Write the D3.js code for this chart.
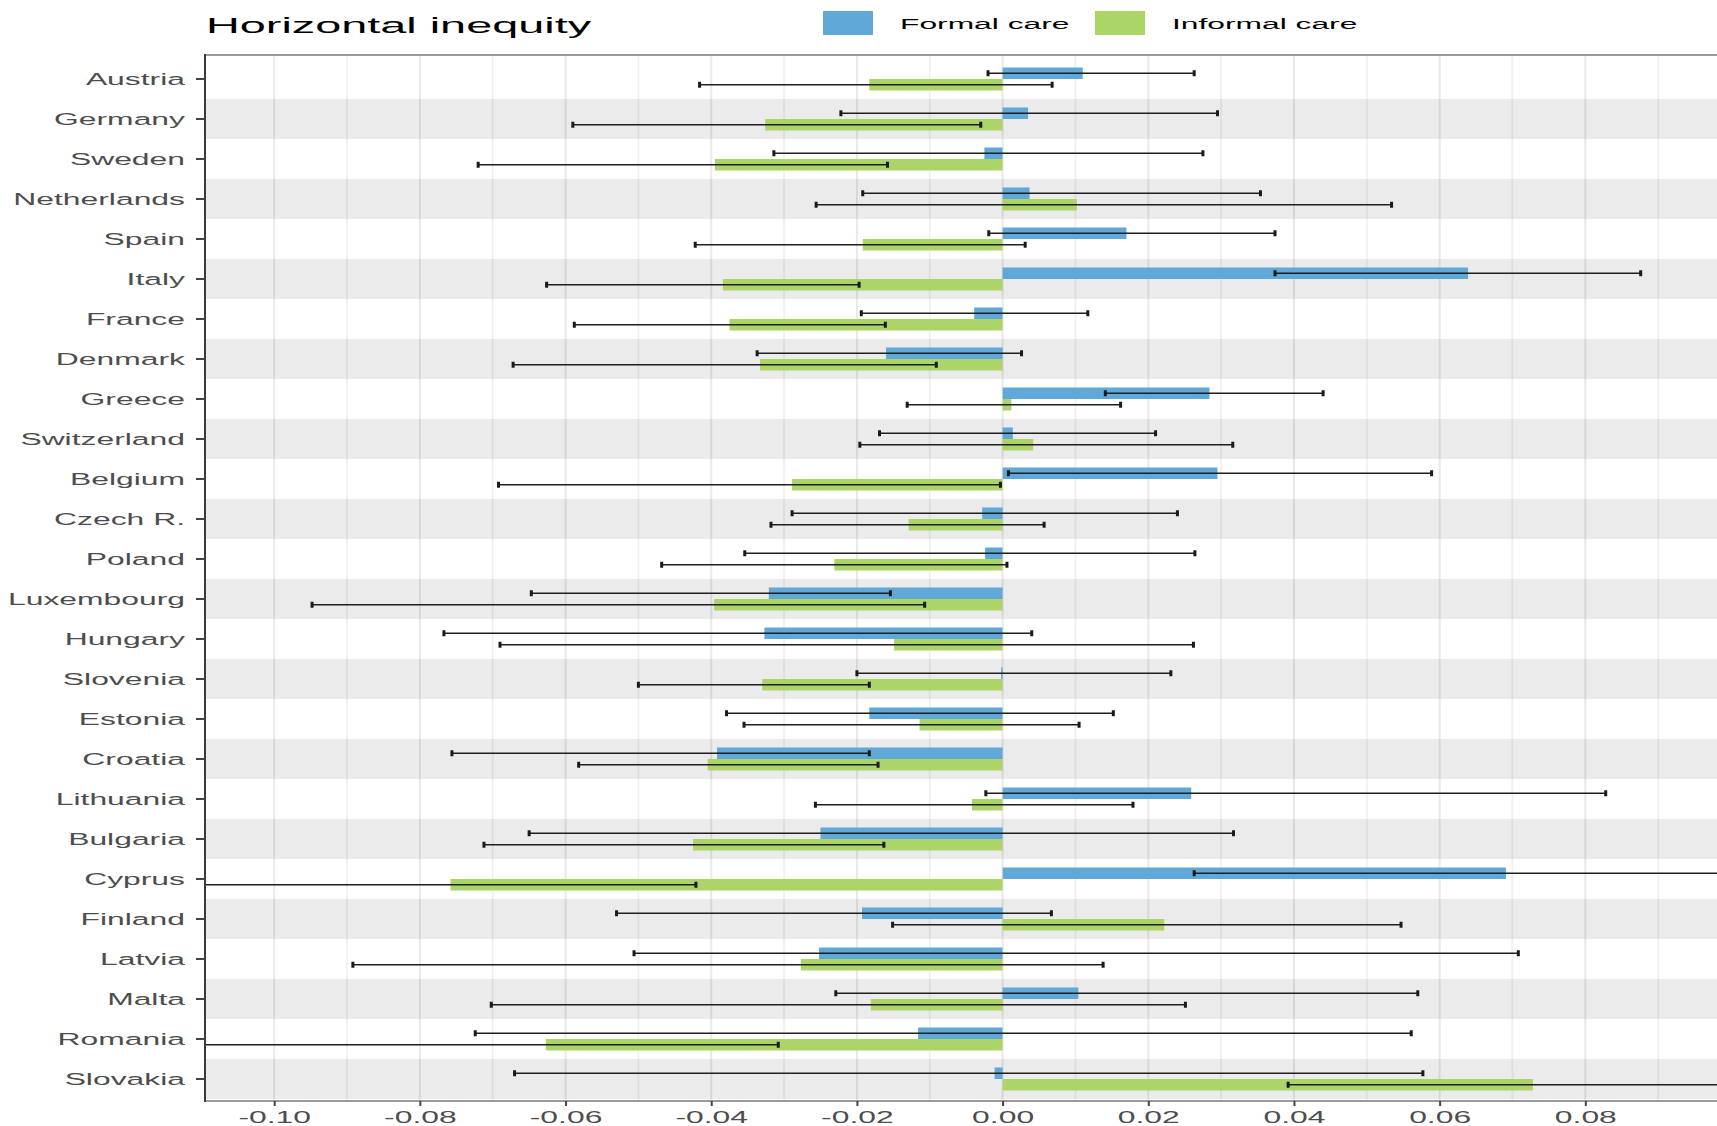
<!DOCTYPE html>
<html>
<head>
<meta charset="utf-8">
<script src="https://cdn.jsdelivr.net/npm/d3@7"></script>
<style>
  html, body { margin: 0; padding: 0; background: #ffffff; }
  svg { display: block; font-family: "Liberation Sans", Arial, Helvetica, sans-serif; }
</style>
</head>
<body>
<svg id="chart" width="1717" height="1126"></svg>
<script>
// Countries, top to bottom
const countries = [
  "Austria", "Germany", "Sweden", "Netherlands", "Spain", "Italy", "France",
  "Denmark", "Greece", "Switzerland", "Belgium", "Czech R.", "Poland",
  "Luxembourg", "Hungary", "Slovenia", "Estonia", "Croatia", "Lithuania",
  "Bulgaria", "Cyprus", "Finland", "Latvia", "Malta", "Romania", "Slovakia"
];

// Formal care: horizontal inequity index with confidence bounds
const formalEst = [
  0.0110, 0.0035, -0.0025, 0.0037, 0.0170, 0.0639, -0.0039,
  -0.0160, 0.0284, 0.0014, 0.0295, -0.0028, -0.0024,
  -0.0321, -0.0327, -0.0002, -0.0183, -0.0392, 0.0259,
  -0.0250, 0.0691, -0.0193, -0.0252, 0.0104, -0.0116, -0.0011
];
const formalLow = [
  -0.0020, -0.0222, -0.0314, -0.0192, -0.0019, 0.0374, -0.0194,
  -0.0337, 0.0141, -0.0169, 0.0008, -0.0289, -0.0354,
  -0.0647, -0.0767, -0.0200, -0.0379, -0.0756, -0.0023,
  -0.0650, 0.0263, -0.0530, -0.0506, -0.0229, -0.0724, -0.0670
];
const formalHigh = [
  0.0263, 0.0295, 0.0275, 0.0354, 0.0374, 0.0876, 0.0117,
  0.0026, 0.0440, 0.0210, 0.0589, 0.0240, 0.0264,
  -0.0154, 0.0040, 0.0231, 0.0152, -0.0183, 0.0828,
  0.0317, 0.1150, 0.0067, 0.0708, 0.0570, 0.0561, 0.0577
];

// Informal care: horizontal inequity index with confidence bounds
const informalEst = [
  -0.0183, -0.0326, -0.0395, 0.0102, -0.0192, -0.0384, -0.0375,
  -0.0333, 0.0012, 0.0042, -0.0289, -0.0129, -0.0231,
  -0.0396, -0.0149, -0.0330, -0.0114, -0.0405, -0.0042,
  -0.0425, -0.0758, 0.0222, -0.0277, -0.0181, -0.0627, 0.0728
];
const informalLow = [
  -0.0416, -0.0590, -0.0720, -0.0256, -0.0422, -0.0626, -0.0588,
  -0.0672, -0.0131, -0.0196, -0.0692, -0.0318, -0.0468,
  -0.0948, -0.0690, -0.0500, -0.0355, -0.0582, -0.0257,
  -0.0712, -0.1200, -0.0151, -0.0892, -0.0702, -0.1200, 0.0392
];
const informalHigh = [
  0.0068, -0.0030, -0.0158, 0.0534, 0.0031, -0.0197, -0.0161,
  -0.0091, 0.0162, 0.0316, -0.0003, 0.0057, 0.0006,
  -0.0107, 0.0262, -0.0183, 0.0105, -0.0171, 0.0179,
  -0.0163, -0.0421, 0.0547, 0.0138, 0.0251, -0.0308, 0.1100
];

const seriesNames = ["Formal care", "Informal care"];
const seriesColors = ["#5fa8d8", "#acd567"];
const xTickValues = [-0.10, -0.08, -0.06, -0.04, -0.02, 0.00, 0.02, 0.04, 0.06, 0.08];
const xMinorValues = [-0.09, -0.07, -0.05, -0.03, -0.01, 0.01, 0.03, 0.05, 0.07, 0.09];
const titleText = "Horizontal inequity";

// ---- layout ----
const svg = d3.select("#chart");
const W = 1717, H = 1126;
const panel = { left: 205, right: 1731, top: 55, bottom: 1101 };
const STRETCH = 1.93;        // wide lettering used throughout the figure

const x = d3.scaleLinear().domain([-0.1095, 0.1]).range([panel.left, panel.right]);
const y = d3.scaleBand().domain(countries).range([panel.top + 4, panel.bottom - 2]).padding(0);
const ySub = d3.scaleBand().domain(seriesNames).range([8.5, 31.5]).padding(0);

// rows: estimate + bounds per series
const rows = [];
countries.forEach((c, i) => {
  rows.push({ country: c, series: seriesNames[0], est: formalEst[i], lo: formalLow[i], hi: formalHigh[i] });
  rows.push({ country: c, series: seriesNames[1], est: informalEst[i], lo: informalLow[i], hi: informalHigh[i] });
});
const color = d3.scaleOrdinal().domain(seriesNames).range(seriesColors);

svg.append("defs").append("clipPath").attr("id", "panel-clip")
  .append("rect")
  .attr("x", panel.left).attr("y", panel.top)
  .attr("width", panel.right - panel.left).attr("height", panel.bottom - panel.top);

const plot = svg.append("g").attr("clip-path", "url(#panel-clip)");

// alternating row bands
plot.append("g").selectAll("rect")
  .data(countries.filter((c, i) => i % 2 === 1))
  .join("rect")
  .attr("x", panel.left).attr("width", panel.right - panel.left)
  .attr("y", d => y(d)).attr("height", y.bandwidth())
  .attr("fill", "#ebebeb");

// vertical grid lines
plot.append("g").selectAll("line")
  .data(xMinorValues)
  .join("line")
  .attr("x1", d => x(d)).attr("x2", d => x(d))
  .attr("y1", panel.top).attr("y2", panel.bottom)
  .attr("stroke", "rgba(0,0,0,0.055)").attr("stroke-width", 2);
plot.append("g").selectAll("line")
  .data(xTickValues)
  .join("line")
  .attr("x1", d => x(d)).attr("x2", d => x(d))
  .attr("y1", panel.top).attr("y2", panel.bottom)
  .attr("stroke", "rgba(0,0,0,0.085)").attr("stroke-width", 2);

// bars
plot.append("g").selectAll("rect")
  .data(rows)
  .join("rect")
  .attr("x", d => Math.min(x(0), x(d.est)))
  .attr("width", d => Math.abs(x(d.est) - x(0)))
  .attr("y", d => y(d.country) + ySub(d.series))
  .attr("height", ySub.bandwidth())
  .attr("fill", d => color(d.series));

// error bars
const eb = plot.append("g").selectAll("g")
  .data(rows)
  .join("g")
  .attr("transform", d => `translate(0,${y(d.country) + ySub(d.series) + ySub.bandwidth() / 2})`);
eb.append("line")
  .attr("x1", d => x(d.lo)).attr("x2", d => x(d.hi))
  .attr("y1", 0).attr("y2", 0)
  .attr("stroke", "#1f1f1f").attr("stroke-width", 1.7);
eb.append("line")
  .attr("x1", d => x(d.lo)).attr("x2", d => x(d.lo))
  .attr("y1", -3).attr("y2", 3)
  .attr("stroke", "#1a1a1a").attr("stroke-width", 3);
eb.append("line")
  .attr("x1", d => x(d.hi)).attr("x2", d => x(d.hi))
  .attr("y1", -3).attr("y2", 3)
  .attr("stroke", "#1a1a1a").attr("stroke-width", 3);

// panel frame
svg.append("line")
  .attr("x1", panel.left).attr("x2", W).attr("y1", panel.top).attr("y2", panel.top)
  .attr("stroke", "#9a9a9a").attr("stroke-width", 2);
svg.append("line")
  .attr("x1", panel.left).attr("x2", W).attr("y1", panel.bottom).attr("y2", panel.bottom)
  .attr("stroke", "#9a9a9a").attr("stroke-width", 2);
svg.append("line")
  .attr("x1", panel.left).attr("x2", panel.left).attr("y1", panel.top - 1).attr("y2", panel.bottom + 1)
  .attr("stroke", "#3a3a3a").attr("stroke-width", 2);

// y axis
const gy = svg.append("g")
  .attr("transform", `translate(${panel.left},0)`)
  .call(d3.axisLeft(y).tickSize(9).tickPadding(0));
gy.select(".domain").remove();
gy.selectAll(".tick line").attr("stroke", "#444").attr("stroke-width", 2);
gy.selectAll(".tick text")
  .attr("x", 0).attr("dy", "0.36em")
  .attr("transform", `translate(-20,0) scale(${STRETCH},1)`)
  .attr("font-size", 16.5).attr("fill", "#4d4d4d")
  .attr("font-family", "Liberation Sans, Arial, sans-serif");

// x axis
const gx = svg.append("g")
  .attr("transform", `translate(0,${panel.bottom})`)
  .call(d3.axisBottom(x).tickValues(xTickValues).tickFormat(d => d.toFixed(2)).tickSize(5));
gx.select(".domain").remove();
gx.selectAll(".tick line").attr("stroke", "#444").attr("stroke-width", 2);
gx.selectAll(".tick text")
  .attr("y", 0).attr("dy", 0)
  .attr("transform", `translate(0,22) scale(${STRETCH},1)`)
  .attr("font-size", 16.5).attr("fill", "#4d4d4d")
  .attr("font-family", "Liberation Sans, Arial, sans-serif");

// title
svg.append("text")
  .attr("transform", `translate(206,33) scale(2.1,1)`)
  .attr("font-size", 22.3).attr("fill", "#000")
  .text(titleText);

// legend
const legendX = [823, 1095];
const leg = svg.append("g").selectAll("g")
  .data(seriesNames)
  .join("g");
leg.append("rect")
  .attr("x", (d, i) => legendX[i]).attr("y", 11)
  .attr("width", 50).attr("height", 24)
  .attr("fill", d => color(d));
leg.append("text")
  .attr("transform", (d, i) => `translate(${legendX[i] + 77},29) scale(2.05,1)`)
  .attr("font-size", 15.5).attr("fill", "#000")
  .text(d => d);
</script>
</body>
</html>
